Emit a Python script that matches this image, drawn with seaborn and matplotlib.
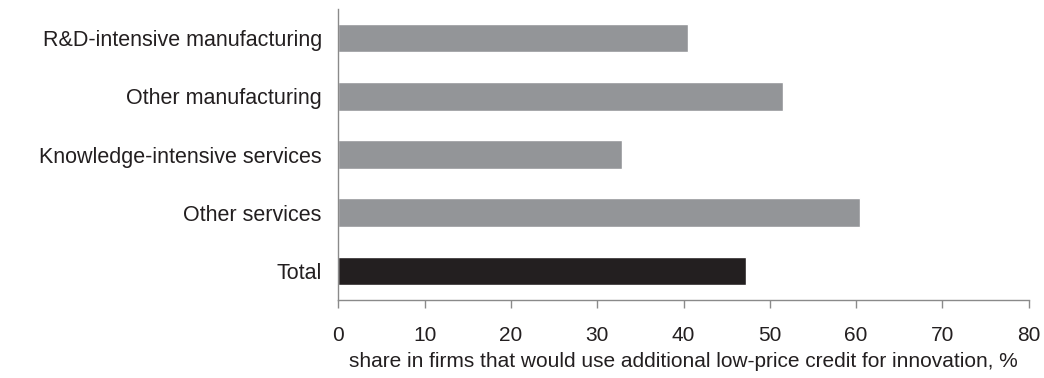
import matplotlib
matplotlib.use("Agg")
import matplotlib.pyplot as plt
import seaborn as sns
import pandas as pd

categories = ["R&D-intensive manufacturing", "Other manufacturing",
              "Knowledge-intensive services", "Other services", "Total"]
shares = [40.5, 51.5, 32.9, 60.5, 47.3]
bar_colors = ["#939598", "#939598", "#939598", "#939598", "#231f20"]
x_ticks = [0, 10, 20, 30, 40, 50, 60, 70, 80]

df = pd.DataFrame({"category": categories, "share": shares})

sns.set_style("white")
plt.rcParams["font.family"] = ["Liberation Sans", "DejaVu Sans"]

fig = plt.figure(figsize=(10.44, 3.78), dpi=100)
ax = fig.add_axes([0.3242, 0.2063, 0.661, 0.7698])

sns.barplot(data=df, x="share", y="category", hue="category",
            palette=bar_colors, orient="h", width=0.49, legend=False,
            saturation=1, ax=ax)

ax.set_xlim(0, 80)
ax.set_ylim(4.5, -0.5)
ax.set_xticks(x_ticks)
ax.set_ylabel("")
ax.set_xlabel("share in firms that would use additional low-price credit for innovation, %",
              fontsize=15, color="#231f20", labelpad=5)

for s in ["top", "right"]:
    ax.spines[s].set_visible(False)
for s in ["left", "bottom"]:
    ax.spines[s].set_color("#8a8a8a")
    ax.spines[s].set_linewidth(1)

ax.tick_params(axis="x", direction="out", length=5.5, width=1, color="#8a8a8a",
               labelsize=15, labelcolor="#231f20", pad=13, bottom=True)
ax.tick_params(axis="y", length=0, labelsize=15.5, labelcolor="#231f20", pad=12)

fig.savefig("out.png", dpi=100)
